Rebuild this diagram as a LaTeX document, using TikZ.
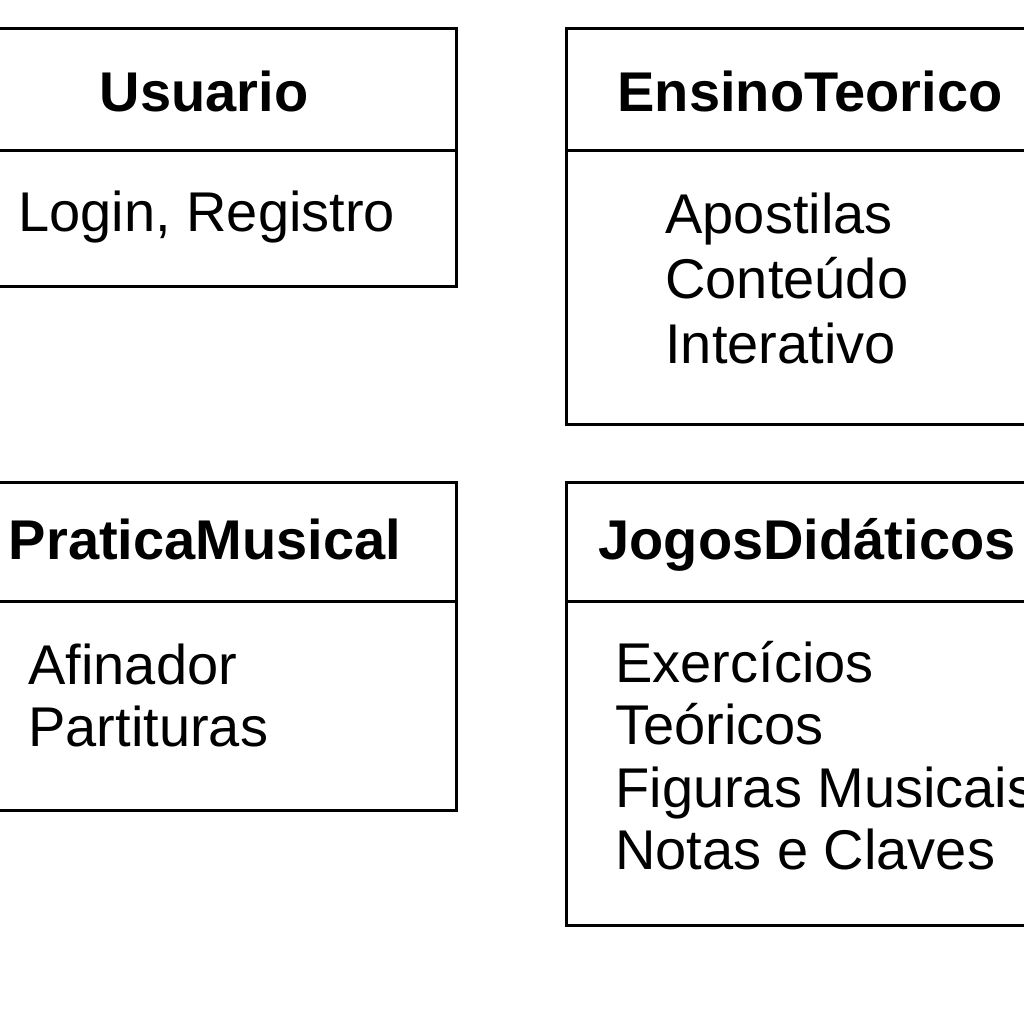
\documentclass[tikz,border=0pt]{standalone}
\usepackage{fontspec}
\setmainfont{Liberation Sans}
\begin{document}
\begin{tikzpicture}[x=0.5pt,y=-0.5pt,
  boxline/.style={draw=black,line width=1.5pt},
  title/.style={font=\fontsize{28}{32}\selectfont\bfseries,inner sep=0pt,anchor=base},
  item/.style={font=\fontsize{28}{32}\selectfont,inner sep=0pt,anchor=base west}]
\useasboundingbox (0,0) rectangle (1024,1024);
\clip (0,0) rectangle (1024,1024);
\fill[white] (0,0) rectangle (1024,1024);
% boxes
\draw[boxline] (-60,28) rectangle (456,286);
\draw[boxline] (-60,150) -- (456,150);
\draw[boxline] (566,28) rectangle (1080,424);
\draw[boxline] (566,150) -- (1080,150);
\draw[boxline] (-60,482) rectangle (456,810);
\draw[boxline] (-60,601) -- (456,601);
\draw[boxline] (566,482) rectangle (1080,925);
\draw[boxline] (566,601) -- (1080,601);
% titles
\node[title] (tusr) at (204,111) {Usuario};
\node[title] (tens) at (810,111) {EnsinoTeorico};
\node[title] (tpra) at (205,559) {PraticaMusical};
\node[title] (tjog) at (807,559) {JogosDidáticos};
% items
\node[item] (u1) at (18,231) {Login, Registro};
\node[item] (e1) at (665,233) {Apostilas};
\node[item] (e2) at (665,298) {Conteúdo};
\node[item] (e3) at (665,363) {Interativo};
\node[item] (p1) at (28,684) {Afinador};
\node[item] (p2) at (28,746) {Partituras};
\node[item] (j1) at (615,682) {Exercícios};
\node[item] (j2) at (615,744) {Teóricos};
\node[item] (j3) at (615,807) {Figuras Musicais};
\node[item] (j4) at (615,869) {Notas e Claves};
\end{tikzpicture}
\end{document}
